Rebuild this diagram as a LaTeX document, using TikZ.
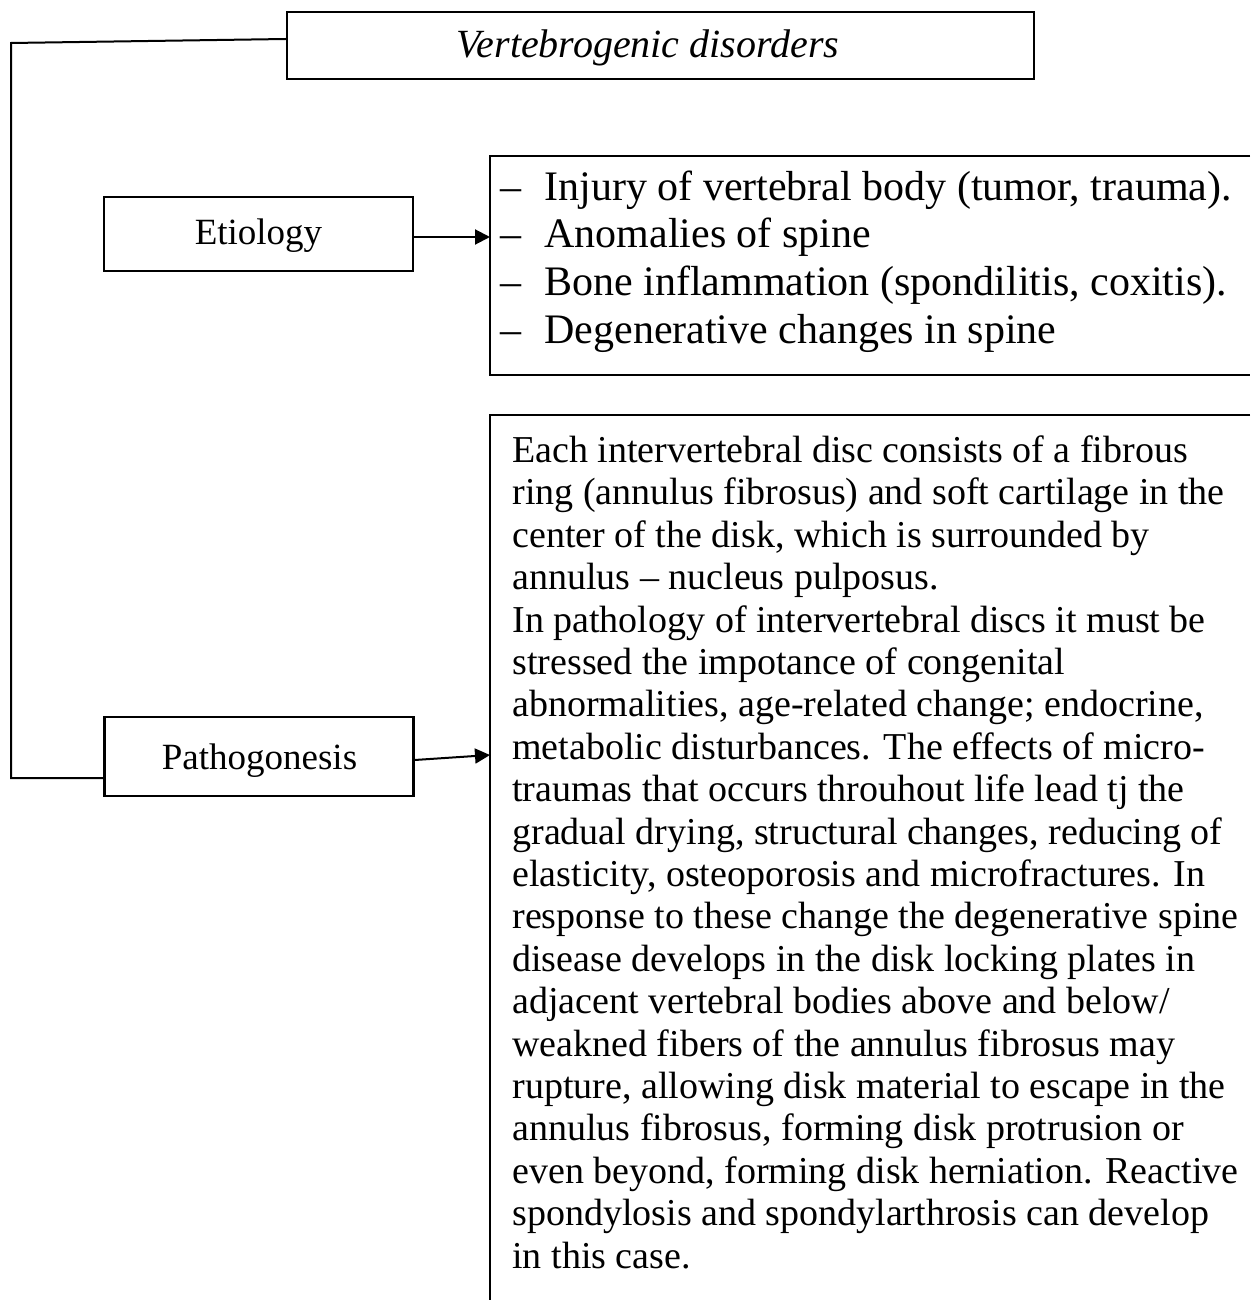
\documentclass[tikz,border=0pt]{standalone}
\usepackage{fontspec}
\setmainfont{Liberation Serif}
\usetikzlibrary{arrows.meta}
\begin{document}
\begin{tikzpicture}[x=0.5pt,y=-0.5pt,
  frame/.style={draw=black, line width=1.1pt, inner sep=0pt},
  link/.style={draw=black, line width=1pt},
  pointer/.style={link, -{Triangle[length=7.5pt,width=7.5pt]}},
  label/.style={inner sep=0pt, anchor=base, font=\fontsize{18.5}{22}\selectfont},
  listtext/.style={inner sep=0pt, anchor=base west, align=left, font=\fontsize{21}{23.8}\selectfont},
  bodytext/.style={inner sep=0pt, anchor=base west, align=left, font=\fontsize{19}{21.2}\selectfont}
]
\useasboundingbox (0,0) rectangle (1250,1300);

% closed boxes
\node[frame, minimum width=373.5pt, minimum height=33.5pt] (title) at (660.5,45.5) {};
\node[frame, minimum width=154.5pt, minimum height=37pt] (etio) at (258.5,234) {};
\node[frame, minimum width=154.5pt, minimum height=39.5pt] (patho) at (259,756.5) {};

\node[label, font=\fontsize{20}{24}\selectfont\itshape] (titletext) at (648,58) {Vertebrogenic disorders};
\node[label] (etiotext) at (258.5,245) {Etiology};
\node[label] (pathotext) at (259.5,769) {Pathogonesis};

% open boxes running off the right (and bottom) edge
\draw[frame] (1250,156) -- (490,156) -- (490,375) -- (1250,375);
\draw[frame] (1250,415) -- (490,415) -- (490,1300);

% multi-line nodes are anchored at the baseline of their last line
\node[listtext] (causes) at (500,343) {%
\makebox[22pt][l]{\textendash}Injury of vertebral body (tumor, trauma).\\
\makebox[22pt][l]{\textendash}Anomalies of spine\\
\makebox[22pt][l]{\textendash}Bone inflammation (spondilitis, coxitis).\\
\makebox[22pt][l]{\textendash}Degenerative changes in spine};

\node[bodytext] (mechanism) at (512,1268) {%
Each intervertebral disc consists of a fibrous\\
ring (annulus fibrosus) and soft cartilage in the\\
center of the disk, which is surrounded by\\
annulus \textendash{} nucleus pulposus.\\
In pathology of intervertebral discs it must be\\
stressed the impotance of congenital\\
abnormalities, age-related change; endocrine,\\
metabolic disturbances. The effects of micro-\\
traumas that occurs throuhout life lead tj the\\
gradual drying, structural changes, reducing of\\
elasticity, osteoporosis and microfractures. In\\
response to these change the degenerative spine\\
disease develops in the disk locking plates in\\
adjacent vertebral bodies above and below/\\
weakned fibers of the annulus fibrosus may\\
rupture, allowing disk material to escape in the\\
annulus fibrosus, forming disk protrusion or\\
even beyond, forming disk herniation. Reactive\\
spondylosis and spondylarthrosis can develop\\
in this case.};

% connector points
\coordinate (listin) at (490,237);
\coordinate (textin) at (490,755);
\coordinate (topbend) at (11,43);
\coordinate (lowbend) at (11,778);

% connectors
\draw[link] ([yshift=3.25pt]title.west) -- (topbend) -- (lowbend) -- ([yshift=-10.75pt]patho.west);
\draw[pointer] ([yshift=-1.5pt]etio.east) -- (listin);
\draw[pointer] ([yshift=-1.75pt]patho.east) -- (textin);
\end{tikzpicture}
\end{document}
